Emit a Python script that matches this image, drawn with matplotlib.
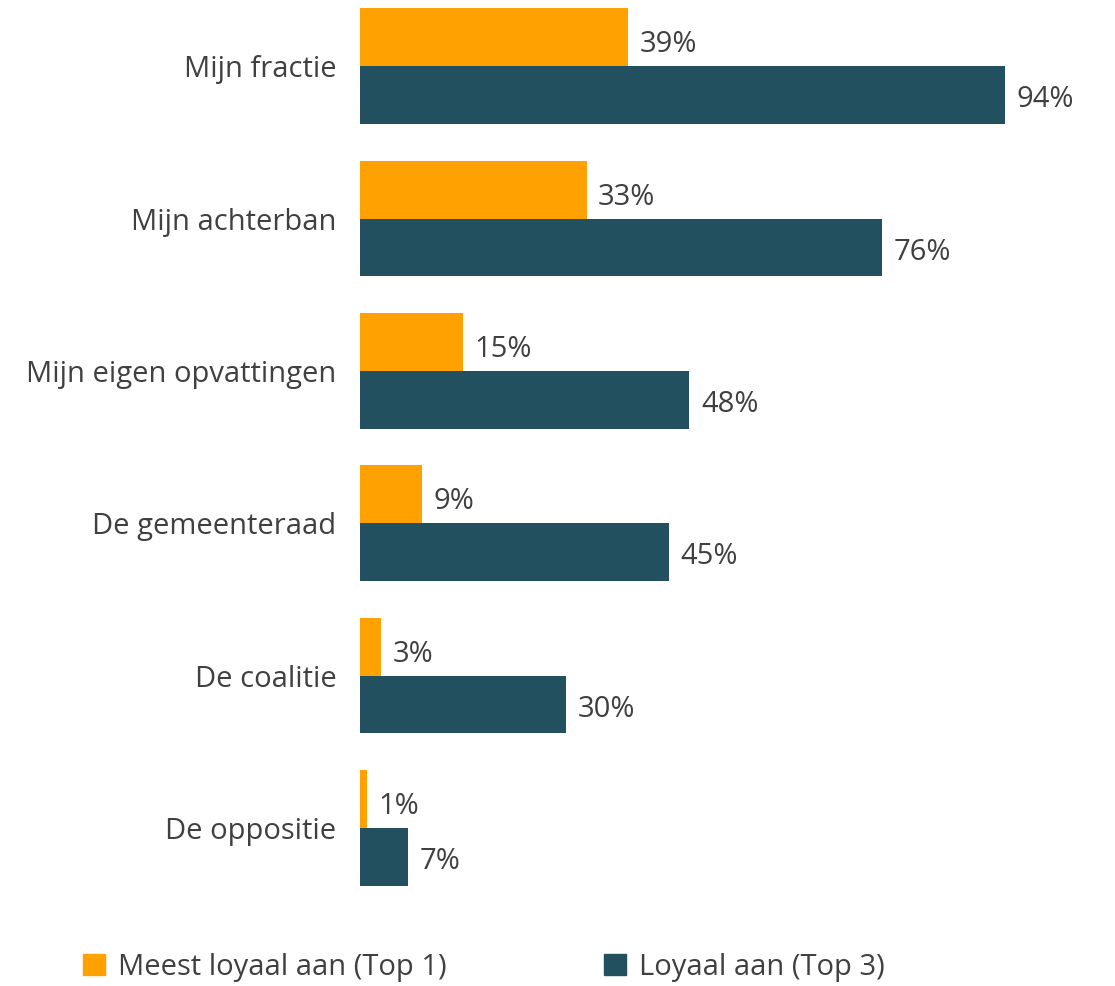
import numpy as np
import matplotlib.pyplot as plt
from matplotlib.patches import Patch

plt.rcParams['font.family'] = ['Open Sans', 'DejaVu Sans']

categories = ['Mijn fractie', 'Mijn achterban', 'Mijn eigen opvattingen',
              'De gemeenteraad', 'De coalitie', 'De oppositie']
top1 = [39, 33, 15, 9, 3, 1]
top3 = [94, 76, 48, 45, 30, 7]
series_names = ['Meest loyaal aan (Top 1)', 'Loyaal aan (Top 3)']

orange = '#FFA100'
teal = '#23505F'
txt = '#404040'
fs = 21

fig = plt.figure(figsize=(11.15, 9.86), dpi=100)
ax = fig.add_axes([360/1115, 82/986, 755/1115, 914/986])

y = np.arange(len(categories))
h = 0.38
ax.barh(y - h/2, top1, height=h, color=orange, label=series_names[0])
ax.barh(y + h/2, top3, height=h, color=teal, label=series_names[1])

for yi, v in zip(y - h/2, top1):
    ax.text(v + 1.7, yi + 0.05, f'{v}%', va='center', ha='left', fontsize=fs, color=txt)
for yi, v in zip(y + h/2, top3):
    ax.text(v + 1.7, yi + 0.03, f'{v}%', va='center', ha='left', fontsize=fs, color=txt)

ax.set_xlim(0, 110)
ax.set_ylim(5.5, -0.5)
ax.set_yticks(y)
ax.set_yticklabels(categories, fontsize=fs, color=txt)
ax.tick_params(axis='y', length=0, pad=17)
ax.set_xticks([])
for s in ax.spines.values():
    s.set_visible(False)

handles = [Patch(color=orange), Patch(color=teal)]
fig.legend(handles, series_names, loc='lower left', bbox_to_anchor=(57/1115, -22/986),
           ncol=2, frameon=False, fontsize=fs, labelcolor=txt,
           handlelength=0.75, handleheight=0.75, handletextpad=0.45, columnspacing=5.4)

fig.savefig('out.png', dpi=100)
